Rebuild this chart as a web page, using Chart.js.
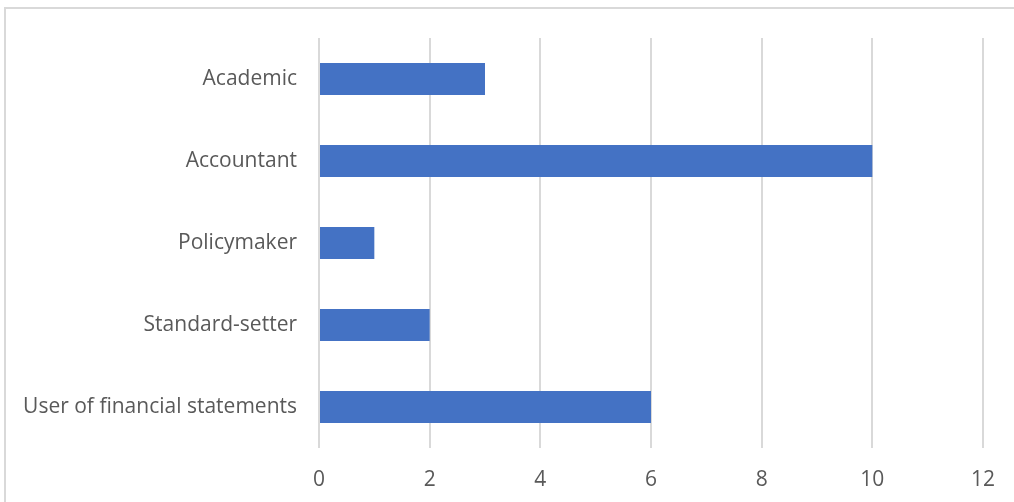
<!DOCTYPE html>
<html>
<head>
<meta charset="utf-8">
<script src="https://cdn.jsdelivr.net/npm/chart.js@4/dist/chart.umd.min.js"></script>
<style>
  html, body { margin: 0; padding: 0; background: #ffffff; overflow: hidden; }
  #wrap { position: relative; width: 1014px; height: 502px; }
  #frame { position: absolute; left: 4px; top: 7px; width: 1020px; height: 510px;
           border-left: 2px solid #d9d9d9; border-top: 2px solid #d9d9d9; box-sizing: border-box; pointer-events: none; }
  canvas { position: absolute; left: 0; top: 0; }
</style>
</head>
<body>
<div id="wrap">
  <canvas id="c" width="1014" height="502"></canvas>
  <div id="frame"></div>
</div>
<script>
const categories = ["Academic", "Accountant", "Policymaker", "Standard-setter", "User of financial statements"];
const values = [3, 10, 1, 2, 6];
const xTicks = [0, 2, 4, 6, 8, 10, 12];

const FONT = "'Open Sans', 'Noto Sans', sans-serif";

new Chart(document.getElementById('c'), {
  type: 'bar',
  data: {
    labels: categories,
    datasets: [{
      data: values,
      backgroundColor: '#4472c4',
      borderWidth: 0,
      barPercentage: 0.39,
      categoryPercentage: 1.0
    }]
  },
  options: {
    indexAxis: 'y',
    responsive: false,
    animation: false,
    devicePixelRatio: 1,
    layout: { padding: { top: 38, right: 29, left: 0, bottom: 0 } },
    plugins: { legend: { display: false }, tooltip: { enabled: false } },
    scales: {
      x: {
        min: xTicks[0],
        max: xTicks[xTicks.length - 1],
        afterBuildTicks: (s) => { s.ticks = xTicks.map(v => ({ value: v })); },
        ticks: { color: '#595959', font: { family: FONT, size: 21 }, padding: 19 },
        grid: { color: '#d9d9d9', lineWidth: 2, drawTicks: false },
        border: { display: false },
        afterFit: (s) => { s.height = 54; }
      },
      y: {
        ticks: { color: '#595959', font: { family: FONT, size: 21 }, padding: 22 },
        grid: { display: false, drawTicks: false },
        border: { display: false },
        afterFit: (s) => { s.width = 319; }
      }
    }
  }
});
</script>
</body>
</html>
